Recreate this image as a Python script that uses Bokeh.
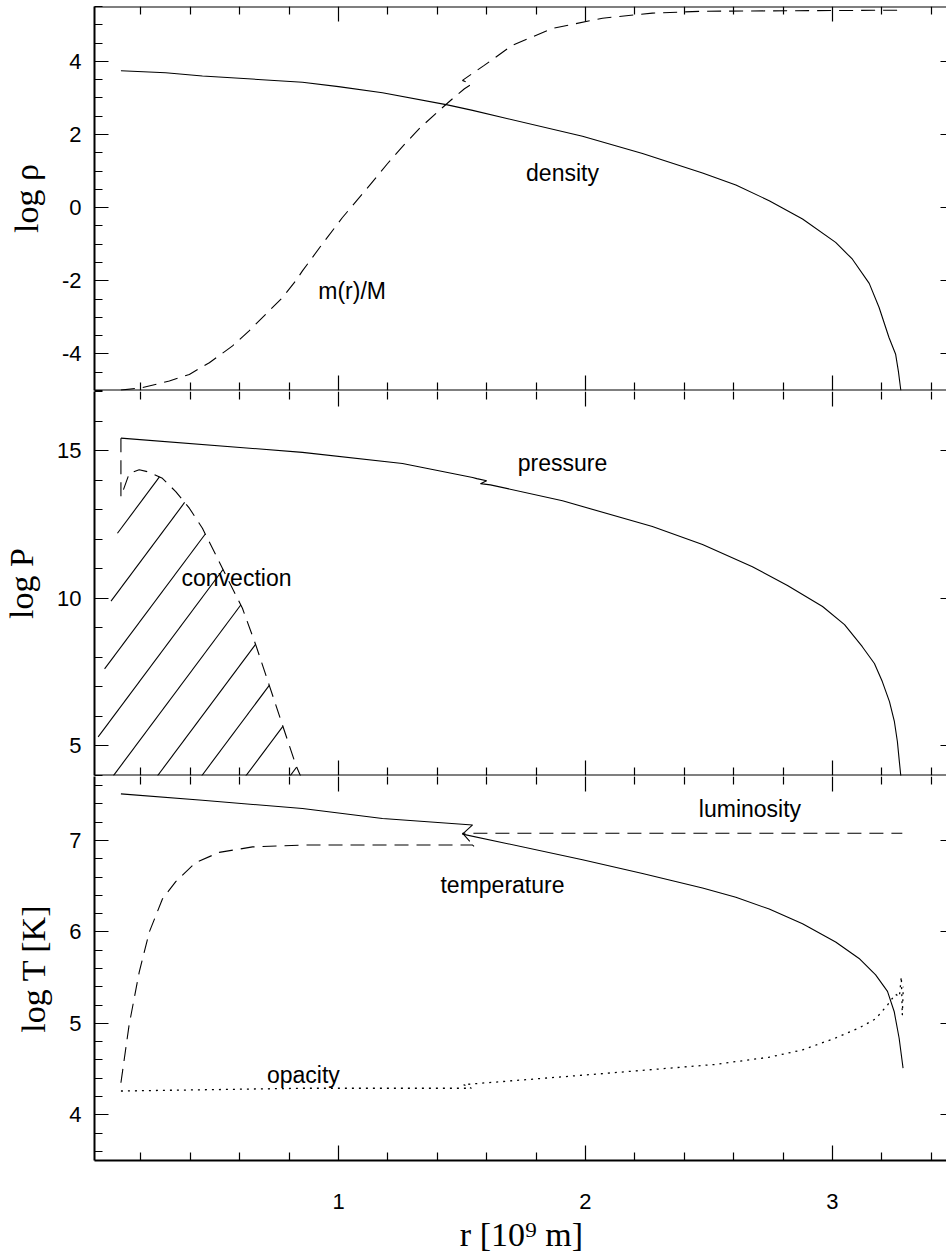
import numpy as np
from bokeh.plotting import figure
from bokeh.models import Range1d, LinearAxis, FixedTicker
from bokeh.layouts import column
from bokeh.core.properties import value
from bokeh.embed import file_html
from bokeh.resources import INLINE

# ---------------- data (r in 10^9 m) ----------------
# panel 1: log density and m(r)/M (scaled onto the log rho axis)
rho_r = [0.119, 0.300, 0.449, 0.854, 1.000, 1.178, 1.441, 1.543, 1.988, 2.231, 2.474,
         2.609, 2.744, 2.879, 3.013, 3.081, 3.149, 3.189, 3.229, 3.256, 3.267, 3.277]
rho_log = [3.745, 3.69, 3.60, 3.43, 3.31, 3.14, 2.81, 2.66, 1.95, 1.48, 0.95,
           0.62, 0.19, -0.31, -0.95, -1.41, -2.07, -2.73, -3.55, -4.01, -4.47, -5.00]

mass_r = [0.119, 0.206, 0.315, 0.396, 0.477, 0.571, 0.638, 0.706, 0.773, 0.827, 0.854,
          0.935, 1.016, 1.105, 1.198, 1.259, 1.327, 1.408, 1.462, 1.510, 1.538, 1.502,
          1.551, 1.590, 1.704, 1.866, 2.069, 2.271, 2.474, 3.283]
mass_y = [-4.99, -4.92, -4.74, -4.56, -4.24, -3.78, -3.37, -2.91, -2.46, -2.00, -1.73,
          -0.99, -0.27, 0.44, 1.20, 1.67, 2.16, 2.66, 2.98, 3.25, 3.37, 3.48,
          3.71, 3.89, 4.44, 4.90, 5.18, 5.32, 5.37, 5.40]

# panel 2: log pressure and the convective boundary
P_r = [0.119, 0.854, 1.259, 1.543, 1.560, 1.600, 1.575, 1.615, 1.907, 2.271, 2.474, 2.676,
       2.818, 2.960, 3.049, 3.121, 3.170, 3.202, 3.231, 3.251, 3.263, 3.271, 3.277]
P_log = [15.42, 14.94, 14.56, 14.09, 14.05, 13.98, 13.88, 13.84, 13.30, 12.43, 11.82, 11.07,
         10.43, 9.72, 9.11, 8.36, 7.79, 7.18, 6.50, 5.82, 5.15, 4.47, 3.98]

conv_r = [0.119, 0.119, 0.153, 0.193, 0.234, 0.287, 0.341, 0.396, 0.449, 0.503, 0.557,
          0.611, 0.665, 0.719, 0.773, 0.827, 0.847]
conv_logP = [15.42, 13.44, 14.23, 14.35, 14.27, 14.06, 13.61, 13.05, 12.37, 11.47, 10.56,
             9.66, 8.42, 7.07, 5.71, 4.36, 3.97]

# panel 3: log temperature, luminosity and opacity (scaled onto the log T axis)
T_r = [0.119, 0.449, 0.854, 1.178, 1.543, 1.502, 1.988, 2.231, 2.474, 2.609, 2.744,
       2.879, 3.013, 3.108, 3.175, 3.223, 3.250, 3.270, 3.286]
T_log = [7.51, 7.44, 7.35, 7.24, 7.17, 7.07, 6.79, 6.64, 6.48, 6.38, 6.25,
         6.09, 5.89, 5.71, 5.53, 5.35, 5.13, 4.84, 4.51]

L_r = [0.119, 0.152, 0.193, 0.234, 0.287, 0.341, 0.422, 0.517, 0.652, 0.854, 1.543,
       1.551, 1.502, 3.283]
L_y = [4.35, 4.98, 5.56, 6.00, 6.36, 6.55, 6.76, 6.87, 6.93, 6.95, 6.95,
       6.93, 7.08, 7.08]

kap_r = [0.119, 0.854, 1.538, 1.506, 2.022, 2.522, 2.744, 2.879, 3.013, 3.108, 3.175,
         3.223, 3.255, 3.271, 3.279, 3.283, 3.287]
kap_y = [4.26, 4.29, 4.29, 4.33, 4.44, 4.55, 4.63, 4.71, 4.84, 4.95, 5.05,
         5.20, 5.32, 5.29, 5.51, 5.09, 5.40]

# ticks
x_major = [1, 2, 3]
x_minor = [0.2, 0.4, 0.6, 0.8, 1.2, 1.4, 1.6, 1.8, 2.2, 2.4, 2.6, 2.8, 3.2, 3.4]
y1_major = [-4, -2, 0, 2, 4]
y1_minor = [-5, -4.5, -3.5, -3, -2.5, -1.5, -1, -0.5, 0.5, 1, 1.5, 2.5, 3, 3.5, 4.5, 5, 5.5]
y2_major = [5, 10, 15]
y2_minor = [4, 6, 7, 8, 9, 11, 12, 13, 14, 16, 17]
y3_major = [4, 5, 6, 7]
y3_minor = [3.6, 3.8, 4.2, 4.4, 4.6, 4.8, 5.2, 5.4, 5.6, 5.8, 6.2, 6.4, 6.6, 6.8, 7.2, 7.4, 7.6]

# annotations (text, r, value)
labels1 = [("density", 1.907, 0.96), ("m(r)/M", 1.055, -2.27)]
labels2 = [("pressure", 1.907, 14.59), ("convection", 0.587, 10.70)]
labels3 = [("luminosity", 2.666, 7.35), ("temperature", 1.664, 6.51), ("opacity", 0.858, 4.44)]

# ---------------- style ----------------
SANS = "Liberation Sans"
SERIF = "Liberation Serif"
TICK_FS = "22px"
ANN_FS = "23px"
LAB_FS = "34px"
FRAME_W = 854
FRAME_H = 384
X_LO, X_HI, X_EDGE = 0.012, 3.47, 3.5
SPINE_W = 2.0

XR = Range1d(X_LO, X_HI)


def tick_style(ax, major, minor, line=True):
    ax.major_tick_in = major
    ax.major_tick_out = 0
    ax.minor_tick_in = minor
    ax.minor_tick_out = 0
    ax.axis_line_color = "black" if line else None
    ax.axis_line_width = SPINE_W
    ax.major_tick_line_color = "black"
    ax.minor_tick_line_color = "black"
    ax.major_tick_line_width = 1.2
    ax.minor_tick_line_width = 1.2


def silent_axis(ax):
    ax.major_label_text_color = None
    ax.axis_label = None


def make_panel(yr, ymaj, ymin, ylabel, top, bottom, label_standoff, top_line):
    p = figure(x_range=XR, y_range=Range1d(*yr), frame_width=FRAME_W, frame_height=FRAME_H,
               output_backend="svg", toolbar_location=None,
               x_axis_location=None, y_axis_location=None,
               min_border_left=92, min_border_right=0,
               min_border_top=top, min_border_bottom=bottom)
    p.outline_line_color = None
    p.xgrid.visible = False
    p.ygrid.visible = False
    p.background_fill_color = "white"
    p.border_fill_color = "white"

    yt = FixedTicker(ticks=ymaj, minor_ticks=ymin)
    left = LinearAxis(ticker=yt, axis_label=ylabel)
    tick_style(left, 14, 8)
    left.major_label_overrides = {t: str(t) for t in ymaj}
    left.major_label_text_font = SANS
    left.major_label_text_font_size = TICK_FS
    left.major_label_text_color = "black"
    left.major_label_standoff = 13
    left.axis_label_text_font = SERIF
    left.axis_label_text_font_size = LAB_FS
    left.axis_label_text_font_style = "normal"
    left.axis_label_text_color = "black"
    left.axis_label_standoff = label_standoff
    p.add_layout(left, "left")

    right = LinearAxis(ticker=FixedTicker(ticks=ymaj, minor_ticks=ymin), fixed_location=X_EDGE)
    tick_style(right, 15, 8)
    silent_axis(right)
    p.add_layout(right, "right")

    xt = FixedTicker(ticks=x_major, minor_ticks=x_minor)
    above = LinearAxis(ticker=xt, fixed_location=yr[1])
    tick_style(above, 15, 8, line=top_line)
    silent_axis(above)
    p.add_layout(above, "above")
    return p


def add_labels(p, labels):
    p.text(x=[l[1] for l in labels], y=[l[2] for l in labels], text=[l[0] for l in labels],
           text_font=value(SANS), text_font_size=ANN_FS, text_color="black",
           text_align="center", text_baseline="middle")


def inner_bottom(p, ylo):
    below = LinearAxis(ticker=FixedTicker(ticks=x_major, minor_ticks=x_minor), fixed_location=ylo)
    tick_style(below, 15, 8)
    silent_axis(below)
    p.add_layout(below, "below")


LW = 1.1
DASH = "14 8"

# ---- panel 1 ----
p1 = make_panel((-5, 5.5), y1_major, y1_minor, "log ρ", 6, 1, 14, True)
inner_bottom(p1, -5)
p1.line(rho_r, rho_log, line_color="black", line_width=LW)
p1.line(mass_r, mass_y, line_color="black", line_width=LW, line_dash=DASH)
add_labels(p1, labels1)

# ---- panel 2 ----
p2 = make_panel((4, 17), y2_major, y2_minor, "log P", 0, 1, 14, False)
inner_bottom(p2, 4)
p2.line(P_r, P_log, line_color="black", line_width=LW)
p2.line(conv_r, conv_logP, line_color="black", line_width=LW, line_dash=DASH)

# hatching of the convective region (boundary curve + lower-left corner)
HATCH_SLOPE = 1.34      # screen slope of hatch lines
HATCH_STEP = 59.25      # spacing along screen-y at fixed x, px
HATCH_PHASE = 44.0
xs_px = FRAME_W / (X_HI - X_LO)
ys_px = FRAME_H / (17 - 4)
poly_r = np.array(conv_r[1:] + [X_LO])
poly_v = np.array(conv_logP[1:] + [4.0])
PX = poly_r * xs_px
PY = poly_v * ys_px
C = PY - HATCH_SLOPE * PX
hx, hy = [], []
c = C.max() - HATCH_PHASE
n = len(PX)
while c > C.min():
    cuts = []
    for i in range(n):
        j = (i + 1) % n
        a, b = C[i] - c, C[j] - c
        if (a > 0) != (b > 0):
            t = a / (a - b)
            cuts.append(PX[i] + t * (PX[j] - PX[i]))
    cuts.sort()
    for u, w in zip(cuts[0::2], cuts[1::2]):
        hx.append([u / xs_px, w / xs_px])
        hy.append([(HATCH_SLOPE * u + c) / ys_px, (HATCH_SLOPE * w + c) / ys_px])
    c -= HATCH_STEP
p2.multi_line(hx, hy, line_color="black", line_width=LW)
add_labels(p2, labels2)

# ---- panel 3 ----
p3 = make_panel((3.5, 7.7), y3_major, y3_minor, "log T [K]", 0, 99, 14, False)
bottom = LinearAxis(ticker=FixedTicker(ticks=x_major, minor_ticks=x_minor), axis_label="r [10⁹ m]")
tick_style(bottom, 15, 8)
bottom.major_label_text_font = SANS
bottom.major_label_text_font_size = TICK_FS
bottom.major_label_text_color = "black"
bottom.major_label_standoff = 33
bottom.axis_label_text_font = SERIF
bottom.axis_label_text_font_size = LAB_FS
bottom.axis_label_text_font_style = "normal"
bottom.axis_label_text_color = "black"
bottom.axis_label_standoff = 4
p3.add_layout(bottom, "below")
p3.line(T_r, T_log, line_color="black", line_width=LW)
p3.line(L_r, L_y, line_color="black", line_width=LW, line_dash=DASH)
p3.line(kap_r, kap_y, line_color="black", line_width=1.3, line_dash="2 5")
add_labels(p3, labels3)

layout = column(p1, p2, p3, spacing=0)
open("out.html", "w").write(file_html(layout, INLINE))
